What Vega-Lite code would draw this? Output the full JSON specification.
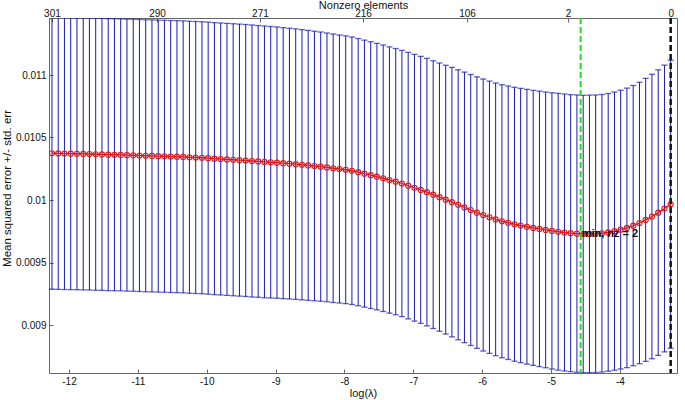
{
  "$schema": "https://vega.github.io/schema/vega-lite/v6.json",
  "width": 628,
  "height": 355,
  "autosize": {"type": "none"},
  "padding": {"left": 49, "top": 18, "right": 8, "bottom": 27},
  "background": "white",
  "config": {
    "view": {"stroke": "#666666", "strokeWidth": 1},
    "font": "Liberation Sans",
    "axis": {
      "labelFont": "Liberation Sans",
      "titleFont": "Liberation Sans",
      "labelFontSize": 10,
      "titleFontSize": 11,
      "titleFontWeight": "normal",
      "labelColor": "#111111",
      "titleColor": "#111111",
      "domainColor": "#666666",
      "tickColor": "#666666",
      "grid": false,
      "tickSize": -4,
      "labelPadding": 7
    }
  },
  "datasets": {
    "cv": [
      {"l": -12.247, "m": 0.010374, "s": 0.001088},
      {"l": -12.156, "m": 0.010373, "s": 0.001088},
      {"l": -12.066, "m": 0.010372, "s": 0.001088},
      {"l": -11.975, "m": 0.010371, "s": 0.001088},
      {"l": -11.884, "m": 0.010370, "s": 0.001088},
      {"l": -11.793, "m": 0.010369, "s": 0.001088},
      {"l": -11.703, "m": 0.010368, "s": 0.001088},
      {"l": -11.612, "m": 0.010366, "s": 0.001088},
      {"l": -11.521, "m": 0.010365, "s": 0.001088},
      {"l": -11.430, "m": 0.010363, "s": 0.001088},
      {"l": -11.340, "m": 0.010362, "s": 0.001088},
      {"l": -11.249, "m": 0.010361, "s": 0.001088},
      {"l": -11.158, "m": 0.010359, "s": 0.001088},
      {"l": -11.067, "m": 0.010358, "s": 0.001088},
      {"l": -10.977, "m": 0.010356, "s": 0.001088},
      {"l": -10.886, "m": 0.010354, "s": 0.001088},
      {"l": -10.795, "m": 0.010353, "s": 0.001088},
      {"l": -10.704, "m": 0.010351, "s": 0.001088},
      {"l": -10.614, "m": 0.010350, "s": 0.001088},
      {"l": -10.523, "m": 0.010348, "s": 0.001088},
      {"l": -10.432, "m": 0.010347, "s": 0.001088},
      {"l": -10.342, "m": 0.010345, "s": 0.001088},
      {"l": -10.251, "m": 0.010342, "s": 0.001088},
      {"l": -10.160, "m": 0.010340, "s": 0.001088},
      {"l": -10.069, "m": 0.010338, "s": 0.001088},
      {"l": -9.979, "m": 0.010335, "s": 0.001088},
      {"l": -9.888, "m": 0.010331, "s": 0.001088},
      {"l": -9.797, "m": 0.010328, "s": 0.001088},
      {"l": -9.706, "m": 0.010325, "s": 0.001088},
      {"l": -9.616, "m": 0.010322, "s": 0.001088},
      {"l": -9.525, "m": 0.010319, "s": 0.001088},
      {"l": -9.434, "m": 0.010316, "s": 0.001088},
      {"l": -9.343, "m": 0.010312, "s": 0.001088},
      {"l": -9.253, "m": 0.010309, "s": 0.001087},
      {"l": -9.162, "m": 0.010305, "s": 0.001087},
      {"l": -9.071, "m": 0.010302, "s": 0.001086},
      {"l": -8.980, "m": 0.010299, "s": 0.001085},
      {"l": -8.890, "m": 0.010295, "s": 0.001084},
      {"l": -8.799, "m": 0.010291, "s": 0.001083},
      {"l": -8.708, "m": 0.010287, "s": 0.001082},
      {"l": -8.617, "m": 0.010282, "s": 0.001081},
      {"l": -8.527, "m": 0.010277, "s": 0.001080},
      {"l": -8.436, "m": 0.010272, "s": 0.001078},
      {"l": -8.345, "m": 0.010267, "s": 0.001077},
      {"l": -8.254, "m": 0.010261, "s": 0.001075},
      {"l": -8.164, "m": 0.010254, "s": 0.001074},
      {"l": -8.073, "m": 0.010248, "s": 0.001072},
      {"l": -7.982, "m": 0.010242, "s": 0.001071},
      {"l": -7.892, "m": 0.010234, "s": 0.001070},
      {"l": -7.801, "m": 0.010223, "s": 0.001069},
      {"l": -7.710, "m": 0.010211, "s": 0.001068},
      {"l": -7.619, "m": 0.010199, "s": 0.001067},
      {"l": -7.529, "m": 0.010187, "s": 0.001066},
      {"l": -7.438, "m": 0.010174, "s": 0.001066},
      {"l": -7.347, "m": 0.010160, "s": 0.001065},
      {"l": -7.256, "m": 0.010147, "s": 0.001065},
      {"l": -7.166, "m": 0.010132, "s": 0.001065},
      {"l": -7.075, "m": 0.010115, "s": 0.001066},
      {"l": -6.984, "m": 0.010098, "s": 0.001067},
      {"l": -6.893, "m": 0.010081, "s": 0.001068},
      {"l": -6.803, "m": 0.010063, "s": 0.001070},
      {"l": -6.712, "m": 0.010043, "s": 0.001071},
      {"l": -6.621, "m": 0.010023, "s": 0.001073},
      {"l": -6.530, "m": 0.010003, "s": 0.001075},
      {"l": -6.440, "m": 0.009983, "s": 0.001078},
      {"l": -6.349, "m": 0.009962, "s": 0.001080},
      {"l": -6.258, "m": 0.009941, "s": 0.001082},
      {"l": -6.167, "m": 0.009920, "s": 0.001084},
      {"l": -6.077, "m": 0.009899, "s": 0.001086},
      {"l": -5.986, "m": 0.009880, "s": 0.001088},
      {"l": -5.895, "m": 0.009862, "s": 0.001089},
      {"l": -5.805, "m": 0.009845, "s": 0.001091},
      {"l": -5.714, "m": 0.009830, "s": 0.001092},
      {"l": -5.623, "m": 0.009818, "s": 0.001094},
      {"l": -5.532, "m": 0.009806, "s": 0.001096},
      {"l": -5.442, "m": 0.009796, "s": 0.001097},
      {"l": -5.351, "m": 0.009786, "s": 0.001099},
      {"l": -5.260, "m": 0.009777, "s": 0.001100},
      {"l": -5.169, "m": 0.009769, "s": 0.001102},
      {"l": -5.079, "m": 0.009761, "s": 0.001103},
      {"l": -4.988, "m": 0.009753, "s": 0.001105},
      {"l": -4.897, "m": 0.009746, "s": 0.001107},
      {"l": -4.806, "m": 0.009740, "s": 0.001108},
      {"l": -4.716, "m": 0.009735, "s": 0.001108},
      {"l": -4.625, "m": 0.009731, "s": 0.001109},
      {"l": -4.534, "m": 0.009728, "s": 0.001109},
      {"l": -4.443, "m": 0.009729, "s": 0.001110},
      {"l": -4.353, "m": 0.009730, "s": 0.001110},
      {"l": -4.262, "m": 0.009734, "s": 0.001110},
      {"l": -4.171, "m": 0.009741, "s": 0.001111},
      {"l": -4.080, "m": 0.009751, "s": 0.001113},
      {"l": -3.990, "m": 0.009763, "s": 0.001115},
      {"l": -3.899, "m": 0.009777, "s": 0.001118},
      {"l": -3.808, "m": 0.009795, "s": 0.001121},
      {"l": -3.717, "m": 0.009816, "s": 0.001126},
      {"l": -3.627, "m": 0.009841, "s": 0.001132},
      {"l": -3.536, "m": 0.009868, "s": 0.001138},
      {"l": -3.445, "m": 0.009899, "s": 0.001142},
      {"l": -3.354, "m": 0.009932, "s": 0.001147},
      {"l": -3.264, "m": 0.009966, "s": 0.001152}
    ]
  },
  "layer": [
    {
      "data": {"name": "cv"},
      "mark": {
        "type": "errorbar",
        "clip": true,
        "color": "#1a1ab0",
        "rule": {"strokeWidth": 1},
        "ticks": {"size": 6, "thickness": 1.3}
      },
      "encoding": {
        "x": {
          "field": "l",
          "type": "quantitative",
          "scale": {"domain": [-12.29, -3.172], "nice": false, "zero": false},
          "axis": {
            "orient": "bottom",
            "values": [-12, -11, -10, -9, -8, -7, -6, -5, -4],
            "labelExpr": "'' + datum.value",
            "title": "log(λ)",
            "titleY": 20,
            "titleBaseline": "middle"
          }
        },
        "y": {
          "field": "m",
          "type": "quantitative",
          "scale": {"domain": [0.008616, 0.011456], "nice": false, "zero": false},
          "axis": {
            "values": [0.009, 0.0095, 0.01, 0.0105, 0.011],
            "labelExpr": "'' + datum.value",
            "title": "Mean squared error +/- std. err",
            "titleX": -37,
            "titleY": 170,
            "titleFontSize": 11.5,
            "titleAngle": -90,
            "titleBaseline": "bottom"
          }
        },
        "yError": {"field": "s"}
      }
    },
    {
      "data": {"name": "cv"},
      "mark": {
        "type": "line",
        "color": "#e01818",
        "strokeWidth": 1.3,
        "clip": true,
        "point": {"filled": false, "size": 26, "color": "#e01818", "strokeWidth": 1.1}
      },
      "encoding": {
        "x": {"field": "l", "type": "quantitative", "axis": null},
        "y": {"field": "m", "type": "quantitative"}
      }
    },
    {
      "data": {"values": [{"l": -4.571}]},
      "mark": {"type": "rule", "color": "#22dd22", "strokeWidth": 2, "strokeDash": [6, 3]},
      "encoding": {
        "x": {"field": "l", "type": "quantitative", "axis": null}
      }
    },
    {
      "data": {"values": [{"l": -3.264}]},
      "mark": {"type": "rule", "color": "#111111", "strokeWidth": 2.5, "strokeDash": [6, 3]},
      "encoding": {
        "x": {
          "field": "l",
          "type": "quantitative",
          "axis": {
            "orient": "top",
            "values": [-12.247, -10.722, -9.227, -7.731, -6.221, -4.755, -3.264],
            "labelExpr": "datum.value < -12 ? '301' : datum.value < -10 ? '290' : datum.value < -9 ? '271' : datum.value < -7 ? '216' : datum.value < -6 ? '106' : datum.value < -4 ? '2' : '0'",
            "title": "Nonzero elements",
            "titleY": -13,
            "titleBaseline": "middle",
            "labelPadding": 4
          }
        }
      }
    },
    {
      "data": {"values": [{"l": -4.571, "m": 0.009728, "t": "min, nz = 2"}]},
      "mark": {"type": "text", "align": "left", "baseline": "middle", "dx": 1, "fontSize": 11, "fontWeight": "bold", "color": "#111111", "font": "Liberation Sans"},
      "encoding": {
        "x": {"field": "l", "type": "quantitative", "axis": null},
        "y": {"field": "m", "type": "quantitative"},
        "text": {"field": "t"}
      }
    }
  ],
  "resolve": {"axis": {"x": "independent"}}
}
